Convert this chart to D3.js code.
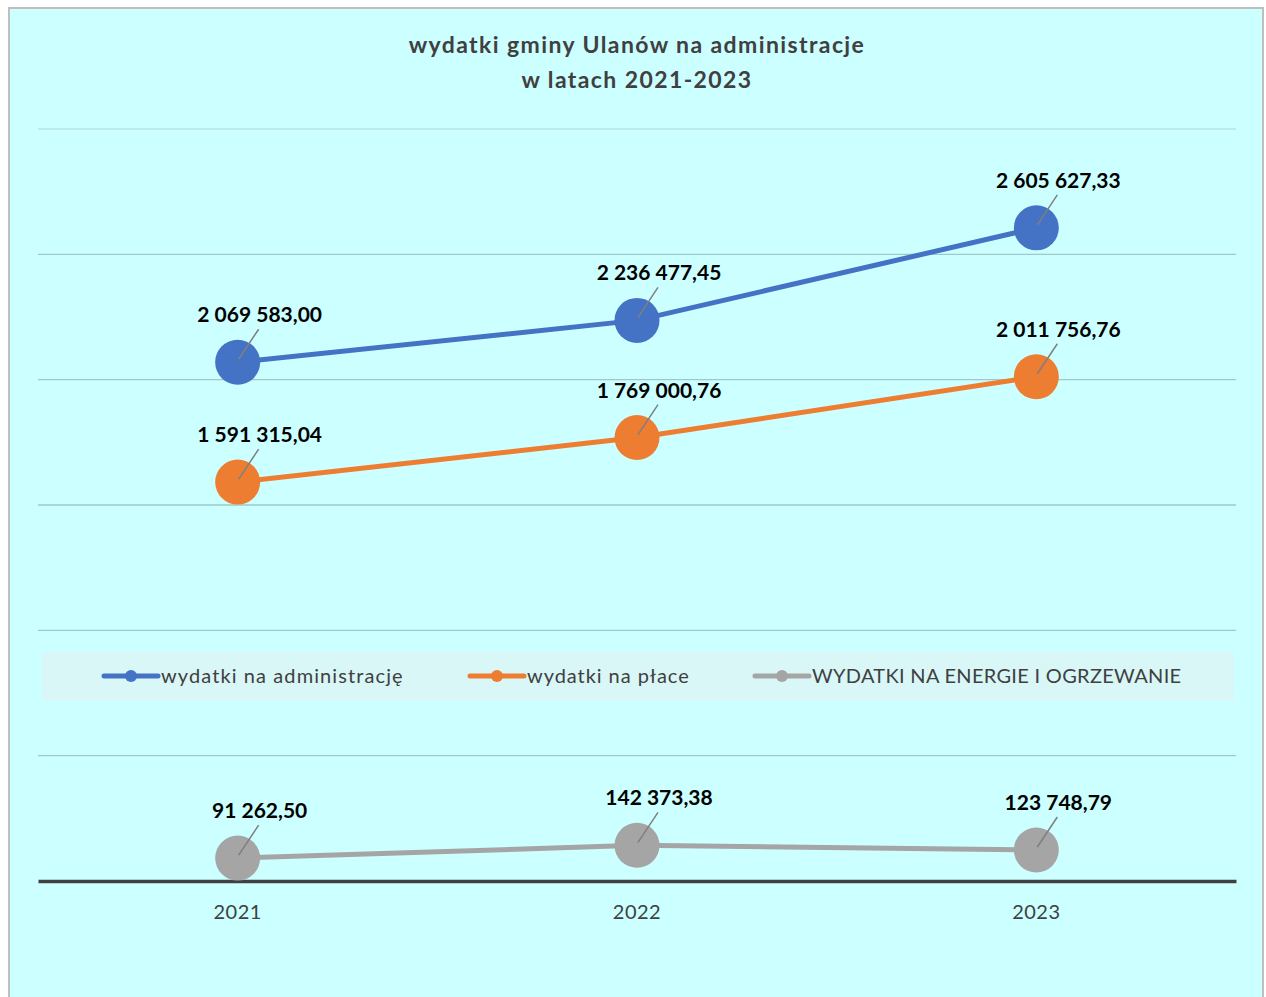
<!DOCTYPE html>
<html><head><meta charset="utf-8">
<script src="https://cdn.jsdelivr.net/npm/d3@7"></script>
<style>html,body{margin:0;padding:0;background:#fff;}</style>
</head><body>
<svg id="c" width="1266" height="997"></svg>
<script>
const years = ["2021", "2022", "2023"];
const seriesNames = ["wydatki na administrację", "wydatki na płace", "WYDATKI NA ENERGIE I OGRZEWANIE"];
const adminValues = [2069583.00, 2236477.45, 2605627.33];
const payValues = [1591315.04, 1769000.76, 2011756.76];
const energyValues = [91262.50, 142373.38, 123748.79];
const yTicks = [0, 500000, 1000000, 1500000, 2000000, 2500000, 3000000];
const titleLines = ["wydatki gminy Ulanów na administracje", "w latach 2021-2023"];
const colors = ["#4472C4", "#ED7D31", "#A5A5A5"];

const series = [adminValues, payValues, energyValues].map((v, i) => ({name: seriesNames[i], values: v, color: colors[i]}));
const font = "Lato, 'Open Sans', sans-serif";
const svg = d3.select("#c");

svg.append("rect").attr("x", 9).attr("y", 8).attr("width", 1254).attr("height", 1000)
  .attr("fill", "#ccffff").attr("stroke", "#bfbfbf").attr("stroke-width", 2);

const x = d3.scaleBand().domain(years).range([38, 1236]);
const y = d3.scaleLinear().domain([0, 3000000]).range([881, 129]);

// gridlines
svg.append("g").selectAll("line").data(yTicks.filter(d => d > 0)).join("line")
  .attr("x1", 38).attr("x2", 1236).attr("y1", d => y(d)).attr("y2", d => y(d))
  .attr("stroke", d => d === 3000000 ? "#b8e4e4" : "#a0c8c8").attr("stroke-width", 1.3);

// title
svg.append("text").attr("x", 637).attr("y", 53).attr("text-anchor", "middle")
  .attr("font-family", font).attr("font-weight", "bold").attr("font-size", 23).attr("fill", "#404040")
  .attr("letter-spacing", 1.4)
  .selectAll("tspan").data(titleLines).join("tspan").attr("x", 637).attr("dy", (d, i) => i ? 35 : 0).text(d => d);

// x axis
const xAxis = svg.append("g").attr("transform", "translate(0,881)")
  .call(d3.axisBottom(x).tickSize(0).tickPadding(24));
xAxis.select(".domain").attr("stroke", "#404040").attr("stroke-width", 3.5);
xAxis.selectAll("text").attr("font-family", font).attr("font-size", 20).attr("letter-spacing", 0.5).attr("fill", "#404040");

const cx = d => x(d) + x.bandwidth() / 2;
const line = d3.line().x((d, i) => cx(years[i])).y(d => y(d));

// legend box
const leg = svg.append("g");
leg.append("rect").attr("x", 42).attr("y", 652).attr("width", 1192).attr("height", 49).attr("fill", "#d9f7f7");
const legX = [102, 468, 753];
const legSpacing = [1.1, 0.95, 0.3];
series.forEach((s, i) => {
  const g = leg.append("g").attr("transform", `translate(${legX[i]},676)`);
  g.append("line").attr("x1", 2).attr("x2", 56).attr("stroke", s.color).attr("stroke-width", 5).attr("stroke-linecap", "round");
  g.append("circle").attr("cx", 29).attr("r", 6).attr("fill", s.color);
  g.append("text").attr("x", 59).attr("y", 7).attr("font-family", font).attr("font-size", 20)
    .attr("letter-spacing", legSpacing[i]).attr("fill", "#404040").text(s.name);
});

series.forEach(s => {
  const g = svg.append("g");
  g.append("path").datum(s.values).attr("d", line).attr("fill", "none").attr("stroke", s.color).attr("stroke-width", 5);
  g.selectAll("circle").data(s.values).join("circle")
    .attr("cx", (d, i) => cx(years[i])).attr("cy", d => y(d)).attr("r", 22.5).attr("fill", s.color);
  g.selectAll("line.leader").data(s.values).join("line").attr("class", "leader")
    .attr("x1", (d, i) => cx(years[i]) + 1).attr("y1", d => y(d) - 3)
    .attr("x2", (d, i) => cx(years[i]) + 21).attr("y2", d => y(d) - 33)
    .attr("stroke", "#7f7f7f").attr("stroke-width", 1.5);
  g.selectAll("text").data(s.values).join("text")
    .attr("x", (d, i) => cx(years[i]) + 22).attr("y", d => y(d) - 40)
    .attr("text-anchor", "middle").attr("font-family", font).attr("font-weight", "bold").attr("font-size", 21).attr("fill", "#000")
    .text(d => {
      const [ip, fp] = d.toFixed(2).split(".");
      return ip.replace(/\B(?=(\d{3})+(?!\d))/g, " ") + "," + fp;
    });
});
</script>
</body></html>
